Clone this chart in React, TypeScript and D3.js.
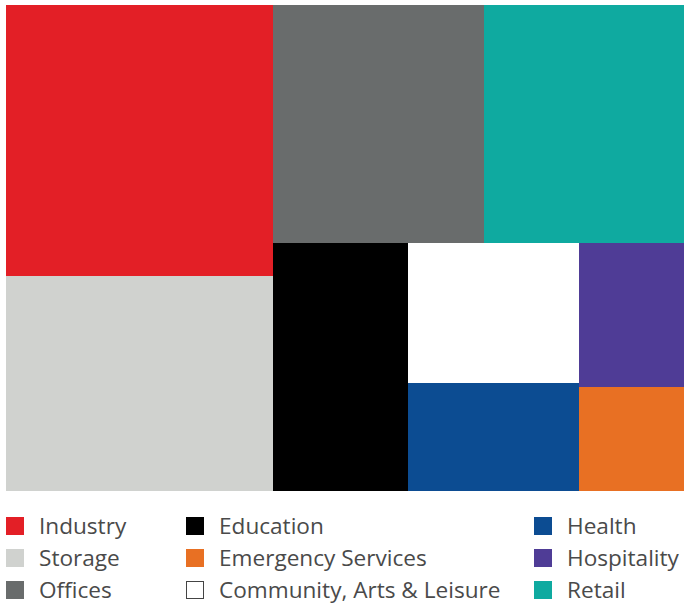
import React from "react";
import * as d3 from "d3";

const categories = [
  "Industry",
  "Storage",
  "Offices",
  "Retail",
  "Education",
  "Community, Arts & Leisure",
  "Health",
  "Hospitality",
  "Emergency Services",
];
const values = [22.0, 17.4, 15.2, 14.4, 10.1, 7.3, 5.6, 4.6, 3.3];
const colors = [
  "#e31f26",
  "#d0d2cf",
  "#696c6c",
  "#0faaa0",
  "#000000",
  "#ffffff",
  "#0c4c92",
  "#4f3c96",
  "#e87023",
];
const legendColumns = [
  ["Industry", "Storage", "Offices"],
  ["Education", "Emergency Services", "Community, Arts & Leisure"],
  ["Health", "Hospitality", "Retail"],
];

const W = 684;
const H = 605;
const MX = 6;
const MY = 5;
const TW = 678;
const TH = 486;

export default function App() {
  const data = {
    name: "root",
    children: categories.map((c, i) => ({ name: c, value: values[i] })),
  };
  const root = d3
    .hierarchy<any>(data)
    .sum((d: any) => d.value || 0)
    .sort((a, b) => (b.value || 0) - (a.value || 0));
  d3.treemap<any>()
    .size([TW, TH])
    .tile(d3.treemapSquarify.ratio(1))
    .round(false)(root);
  const leaves = root.leaves() as any[];
  const colorOf = (name: string) => colors[categories.indexOf(name)];

  const colX = [6, 186, 534];
  const rowY = [517, 549, 581];

  return (
    <svg
      width={W}
      height={H}
      style={{ position: "absolute", left: 0, top: 0 }}
    >
      <g transform={`translate(${MX},${MY})`}>
        {leaves.map((l) => (
          <rect
            key={l.data.name}
            x={l.x0}
            y={l.y0}
            width={l.x1 - l.x0}
            height={l.y1 - l.y0}
            fill={colorOf(l.data.name)}
            shapeRendering="crispEdges"
          />
        ))}
      </g>
      {legendColumns.map((col, ci) =>
        col.map((name, ri) => (
          <g key={name} transform={`translate(${colX[ci]},${rowY[ri]})`}>
            <rect
              x={name === "Community, Arts & Leisure" ? 0.5 : 0}
              y={name === "Community, Arts & Leisure" ? 0.5 : 0}
              width={name === "Community, Arts & Leisure" ? 17 : 18}
              height={name === "Community, Arts & Leisure" ? 17 : 18}
              fill={colorOf(name)}
              stroke={name === "Community, Arts & Leisure" ? "#444" : "none"}
              strokeWidth={1}
            />
            <text
              x={33}
              y={17}
              fontFamily="'Open Sans', Arial, sans-serif"
              fontSize={22.6}
              fill="#4a4a4a"
            >
              {name}
            </text>
          </g>
        ))
      )}
    </svg>
  );
}
